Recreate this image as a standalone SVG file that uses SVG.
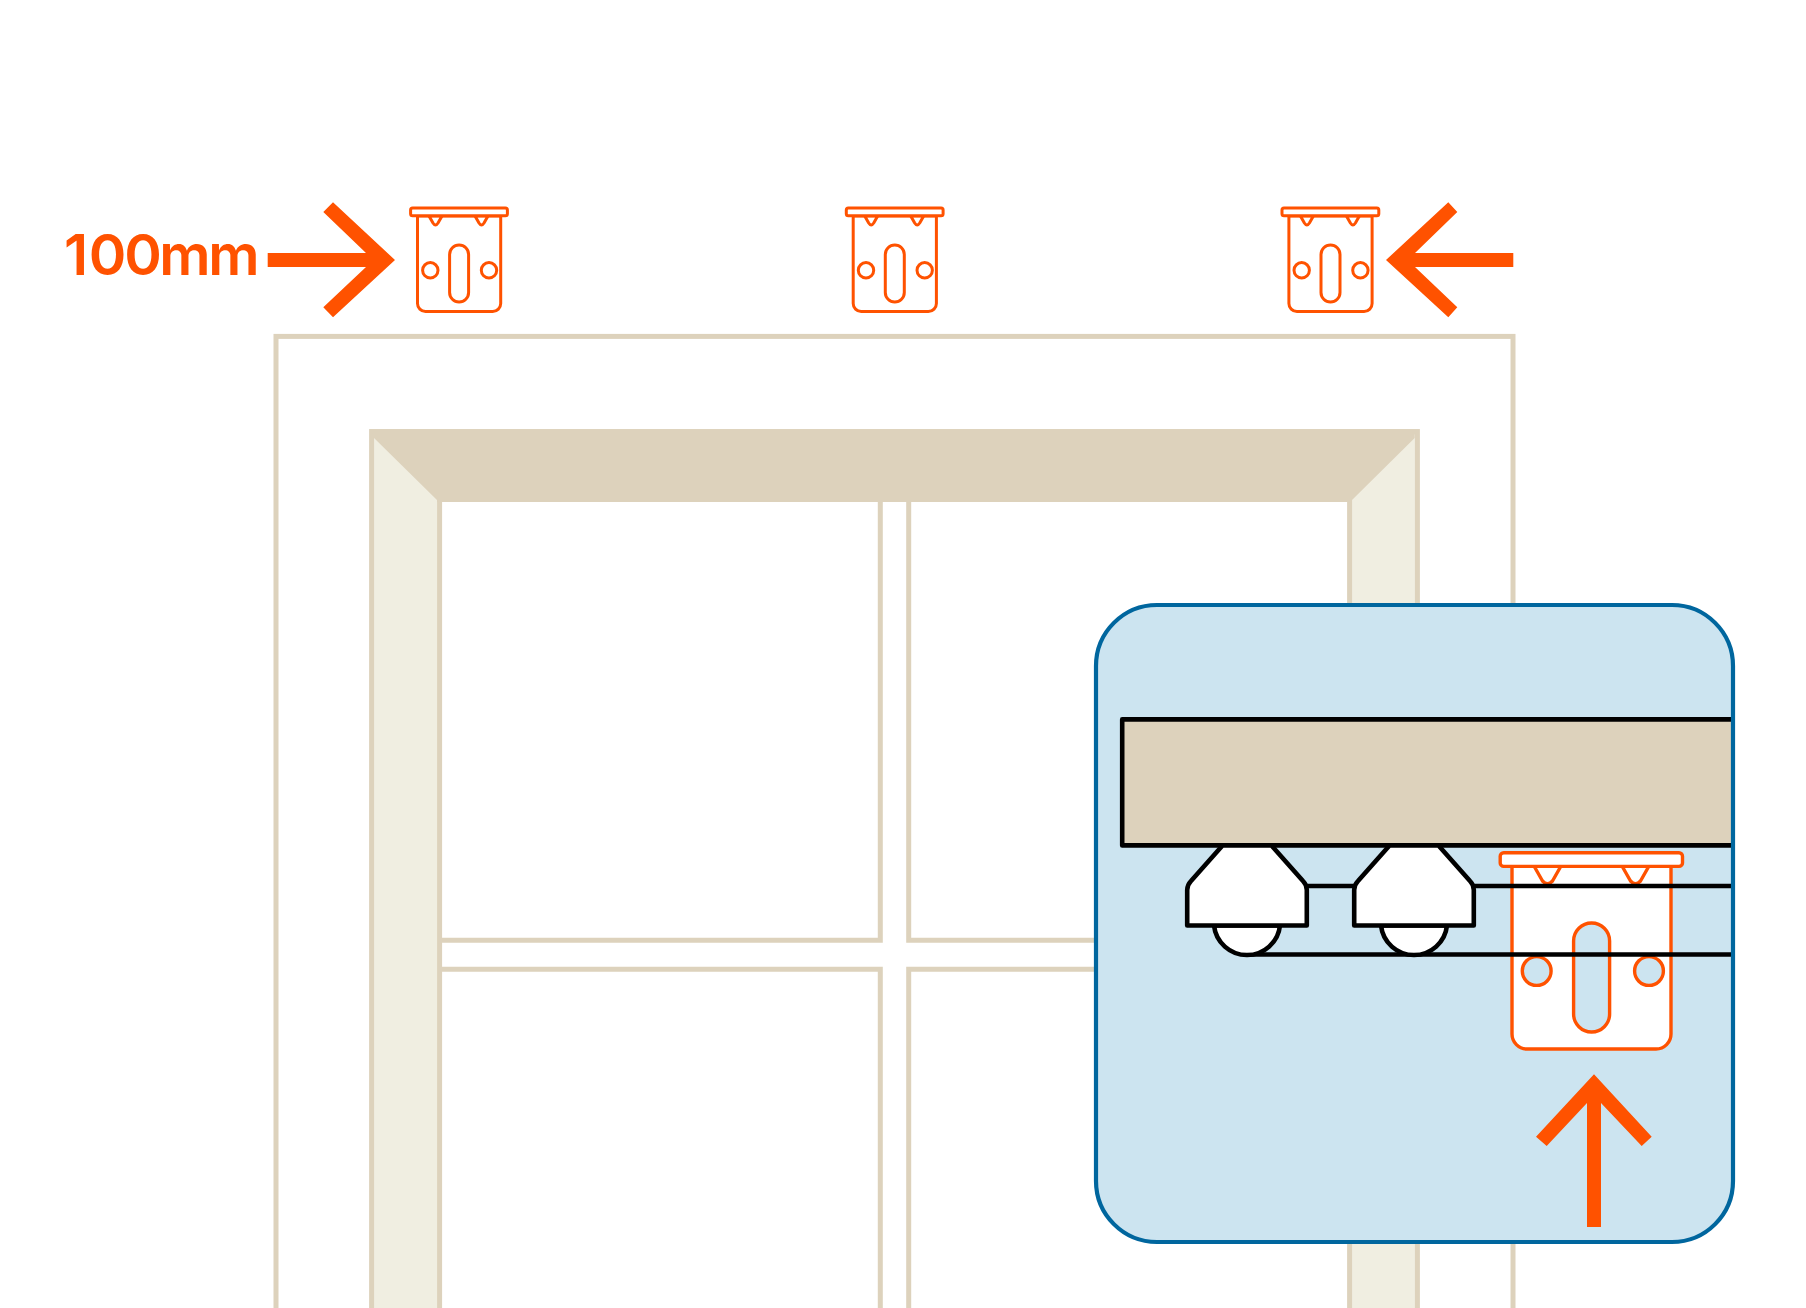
<svg xmlns="http://www.w3.org/2000/svg" width="1806" height="1308" viewBox="0 0 1806 1308">
<style>
.tan{fill:none;stroke:#ddd2bc;stroke-width:5}
.o{fill:#fff;stroke:#ff5200;stroke-linejoin:round}
.s .o{stroke-width:3}
.s .h{fill:#fff}
.l .o{stroke-width:3.4}
.l .h{fill:#cce4f0}
.k{fill:#fff;stroke:#000;stroke-width:4.6;stroke-linejoin:round}
.kl{fill:none;stroke:#000;stroke-width:4.6}
.a{fill:#ff5200}
</style>
<defs>
<g id="small" class="s">
<path class="o" d="M417.5 216V303.5a8 8 0 0 0 8 8H492.7a8 8 0 0 0 8-8V216Z"/>
<path class="o" d="M429 216L433 223Q435.5 227 438 223L442 216Z"/>
<path class="o" d="M475 216L479 223Q481.5 227 484 223L488 216Z"/>
<rect class="o" x="410.6" y="208" width="96.8" height="7.8" rx="2"/>
<rect class="o h" x="449.6" y="245" width="19" height="57" rx="9.5"/>
<circle class="o h" cx="430.3" cy="270.3" r="7.7"/>
<circle class="o h" cx="489" cy="270.3" r="7.7"/>
</g>
<clipPath id="ins"><rect x="1096" y="605" width="637" height="637" rx="61"/></clipPath>
</defs>
<g id="window">
<rect class="tan" x="276" y="336.4" width="1237" height="1000"/>
<rect x="371.6" y="431.6" width="1045.8" height="900" fill="#f0eee1" stroke="#ddd2bc" stroke-width="5"/>
<path d="M369.3 429.3H1419.7L1414.7 434.5V438L1352 500V502H437V500L374 438V434.5Z" fill="#ddd2bc"/>
<rect x="439.6" y="502" width="909.8" height="830" fill="#fff" stroke="none"/>
<path class="tan" d="M439.6 498V1330M1349.6 498V1330"/>
<path class="tan" d="M439.6 940.3H880.3V502M908.7 502V940.3H1349.6M439.6 969.2H880.3V1330M908.7 1330V969.2H1349.6"/>
</g>
<g id="inset">
<rect x="1096" y="605" width="637" height="637" rx="61" fill="#cce4f0"/>
<g clip-path="url(#ins)">
<rect class="k" x="1122.2" y="719.4" width="640" height="126" style="fill:#ddd2bc"/>
<g id="large-bracket" class="l">
<path class="o" d="M1512 866V1034a15 15 0 0 0 15 15H1656a15 15 0 0 0 15-15V866Z"/>
<path class="o" d="M1534 866L1542.5 881Q1547.5 886.5 1552.5 881L1561 866Z"/>
<path class="o" d="M1622 866L1630.5 881Q1635.5 886.5 1640.5 881L1649 866Z"/>
<rect class="o" x="1500.2" y="852.8" width="182.3" height="13.6" rx="3.5"/>
<rect class="o h" x="1573.6" y="923" width="36" height="109" rx="18"/>
<circle class="o h" cx="1536.7" cy="971" r="14.4"/>
<circle class="o h" cx="1649" cy="971" r="14.4"/>
</g>
<g id="connectors">
<path class="kl" d="M1305 886H1356M1472 886H1740M1247 954.5H1740"/>
</g>
<g id="mount-1">
<path class="k" d="M1214 925.5A33.2 33.2 0 0 0 1280 925.5Z"/>
<path class="k" d="M1222.5 845.4L1191 881Q1187.2 885 1187.2 890V925.5H1306.8V890Q1306.8 885 1303 881L1271.5 845.4Z"/>
</g>
<g id="mount-2">
<path class="k" d="M1381 925.5A33.2 33.2 0 0 0 1447 925.5Z"/>
<path class="k" d="M1389.5 845.4L1358 881Q1354.2 885 1354.2 890V925.5H1473.8V890Q1473.8 885 1470 881L1438.5 845.4Z"/>
</g>
</g>
<rect x="1096" y="605" width="637" height="637" rx="61" fill="none" stroke="#00669e" stroke-width="4.2"/>
<path id="arrow-up" class="a" d="M1594 1074.3L1651.7 1136.7L1641.7 1146L1601 1103V1227H1587V1103L1546.7 1146L1536 1136.7Z"/>
</g>
<g id="bracket-1"><use href="#small"/></g>
<g id="bracket-2"><use href="#small" x="435.7"/></g>
<g id="bracket-3"><use href="#small" x="871.4"/></g>
<path id="arrow-left" class="a" d="M395 260L333 317.3L323.3 307.3L366 267.1H267.7V252.9H366L323.3 212L333 202.3Z"/>
<path id="arrow-right" class="a" d="M1386 260L1448.3 317.3L1457.3 307.3L1415 267.1H1513.3V252.9H1415L1457.3 212L1448.3 202.3Z"/>
<text id="label" x="64 88.7 124.3 159.3 208.3" y="274.7" font-family="Inter, 'Liberation Sans', sans-serif" font-size="57" font-weight="600" fill="#ff5200">100mm</text>
</svg>
